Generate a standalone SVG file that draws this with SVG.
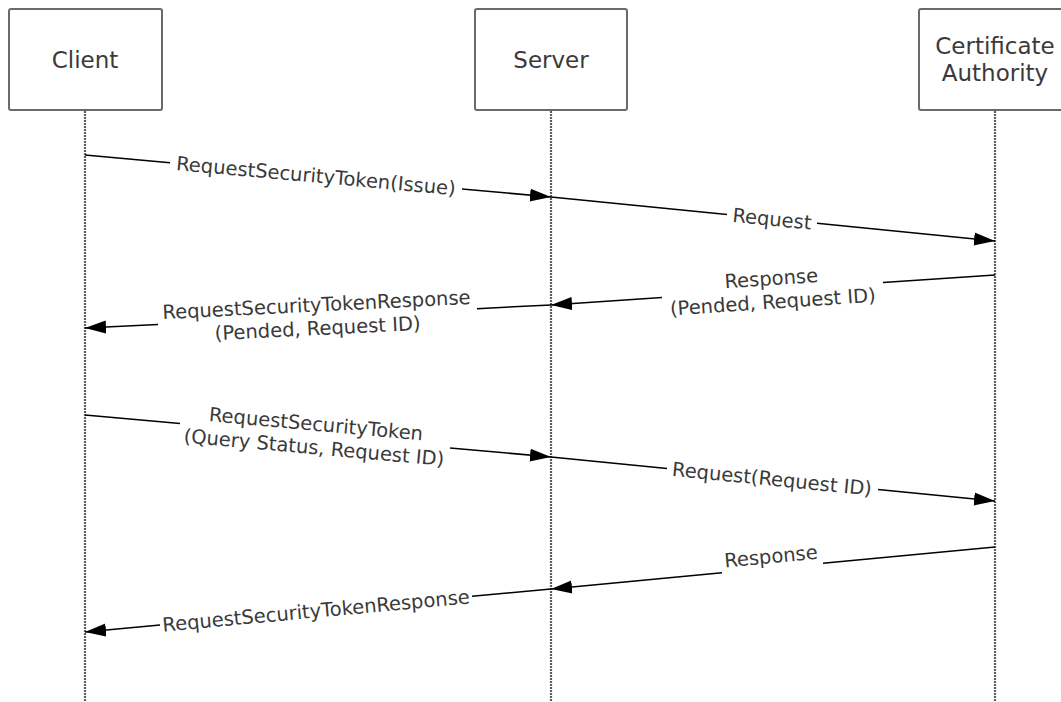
<svg xmlns="http://www.w3.org/2000/svg" width="1061" height="702" viewBox="0 0 1061 702">
<style>
.box{fill:#fff;stroke:#6a6a6a;stroke-width:2}
.life{stroke:#5e5e5e;stroke-width:2.2;stroke-dasharray:2 1;fill:none}
.hdr{font-family:"DejaVu Sans",Verdana,sans-serif;font-size:23px;fill:#3a3a3a;text-anchor:middle}
.lbl{font-family:"DejaVu Sans",Verdana,sans-serif;font-size:19.5px;fill:#3a3a3a;text-anchor:middle}
.msg{stroke:#000;stroke-width:1.5;fill:none}
</style>
<defs>
<marker id="ah" markerUnits="userSpaceOnUse" markerWidth="22" markerHeight="14" refX="21" refY="7" orient="auto">
<path d="M0,0.5 L21,7 L0,13.5 z" fill="#000"/>
</marker>
</defs>
<g id="lifelines">
<line class="life" x1="85" y1="111" x2="85" y2="702"/>
<line class="life" x1="551" y1="111" x2="551" y2="702"/>
<line class="life" x1="995" y1="111" x2="995" y2="702"/>
</g>
<g id="client">
<rect class="box" x="9" y="9" width="153" height="101" rx="2"/>
<text class="hdr" x="85" y="68">Client</text>
</g>
<g id="server">
<rect class="box" x="475" y="9" width="152" height="101" rx="2"/>
<text class="hdr" x="551" y="68">Server</text>
</g>
<g id="ca">
<rect class="box" x="919" y="9" width="152" height="101" rx="2"/>
<text class="hdr" x="995" y="54">Certificate</text>
<text class="hdr" x="995" y="81">Authority</text>
</g>
<g id="connectors">
<polyline class="msg" points="85,155 170,162.66"/>
<polyline class="msg" points="462,188.98 551,197" marker-end="url(#ah)"/>
<text class="lbl" transform="translate(316,175.8) rotate(5.15)" y="6.8">RequestSecurityToken(Issue)</text>

<polyline class="msg" points="551,197 727,214.44"/>
<polyline class="msg" points="817,223.36 995,241" marker-end="url(#ah)"/>
<text class="lbl" transform="translate(772,218.9) rotate(5.66)" y="6.8">Request</text>

<polyline class="msg" points="995,275 883,282.57"/>
<polyline class="msg" points="662,297.5 551,305" marker-end="url(#ah)"/>
<text class="lbl" transform="translate(772,290.1) rotate(-3.865)"><tspan x="0" y="-5">Response</tspan><tspan x="0" y="18.5">(Pended, Request ID)</tspan></text>

<polyline class="msg" points="551,305 477,308.65"/>
<polyline class="msg" points="158,324.4 85,328" marker-end="url(#ah)"/>
<text class="lbl" transform="translate(317,316.5) rotate(-2.83)"><tspan x="0" y="-5">RequestSecurityTokenResponse</tspan><tspan x="0" y="18.5">(Pended, Request ID)</tspan></text>

<polyline class="msg" points="85,415 180,423.56"/>
<polyline class="msg" points="450,447.9 551,457" marker-end="url(#ah)"/>
<text class="lbl" transform="translate(315,435.7) rotate(5.15)"><tspan x="0" y="-5">RequestSecurityToken</tspan><tspan x="0" y="18.5">(Query Status, Request ID)</tspan></text>

<polyline class="msg" points="551,457 667,468.5"/>
<polyline class="msg" points="878,489.4 995,501" marker-end="url(#ah)"/>
<text class="lbl" transform="translate(772,478.9) rotate(5.66)" y="6.8">Request(Request ID)</text>

<polyline class="msg" points="995,547 823,563.27"/>
<polyline class="msg" points="722,572.83 551,589" marker-end="url(#ah)"/>
<text class="lbl" transform="translate(772,568.1) rotate(-5.4)" y="-5">Response</text>

<polyline class="msg" points="551,589 472,596.29"/>
<polyline class="msg" points="160,625.09 85,632" marker-end="url(#ah)"/>
<text class="lbl" transform="translate(316,610.7) rotate(-5.27)" y="6.8">RequestSecurityTokenResponse</text>
</g>
</svg>
